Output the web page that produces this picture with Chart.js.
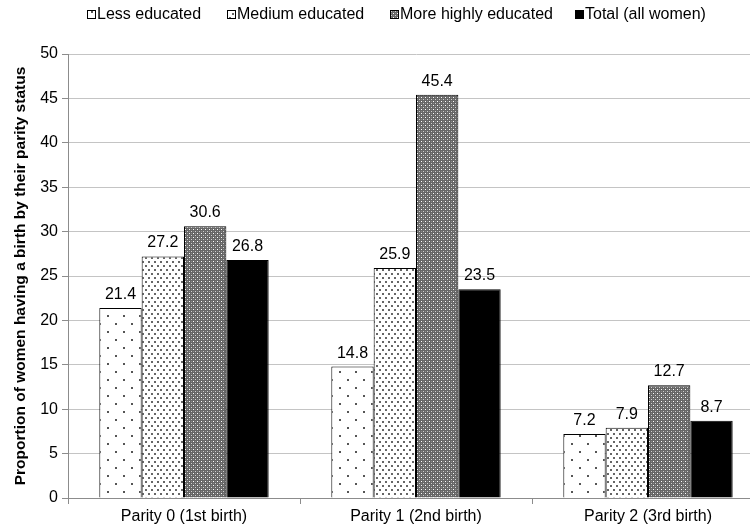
<!DOCTYPE html>
<html>
<head>
<meta charset="utf-8">
<script src="https://cdn.jsdelivr.net/npm/chart.js@4"></script>
<style>
  html, body { margin: 0; padding: 0; background: #fff; overflow: hidden; }
  #wrap { position: absolute; left: 0; top: 0; width: 770px; height: 529px; }
</style>
</head>
<body>
<div id="wrap"><canvas id="c"></canvas></div>
<script>
// Share of women having a birth, by parity and education level
const categories = ['Parity 0 (1st birth)', 'Parity 1 (2nd birth)', 'Parity 2 (3rd birth)'];
const seriesNames = ['Less educated', 'Medium educated', 'More highly educated', 'Total (all women)'];
const lessEducated = [21.4, 14.8, 7.2];
const mediumEducated = [27.2, 25.9, 7.9];
const moreHighlyEducated = [30.6, 45.4, 12.7];
const totalAllWomen = [26.8, 23.5, 8.7];
const yTicks = [0, 5, 10, 15, 20, 25, 30, 35, 40, 45, 50];
const yTitle = 'Proportion of women having a birth by their parity status';

const FONT = '"Liberation Sans", Arial, sans-serif';

// Fill patterns for the bars
function makePattern(w, h, bg, dots) {
  const c = document.createElement('canvas');
  c.width = w; c.height = h;
  const g = c.getContext('2d');
  g.fillStyle = bg; g.fillRect(0, 0, w, h);
  dots.forEach(d => { g.fillStyle = d[4]; g.fillRect(d[0], d[1], d[2], d[3]); });
  return g.createPattern(c, 'repeat');
}
const ctx = document.getElementById('c').getContext('2d');
const sparseDots = makePattern(16, 16, '#ffffff', [[3, 3, 2, 2, '#555'], [11, 11, 2, 2, '#555']]);
const denseDots = makePattern(6, 8, '#ffffff', [[1, 1, 2, 2, '#666'], [4, 5, 2, 2, '#666']]);
const darkCheck = makePattern(4, 4, '#666666', [[1, 1, 1, 1, '#ffffff'], [3, 3, 1, 1, '#d0d0d0'], [3, 1, 1, 1, '#8a8a8a'], [1, 3, 1, 1, '#8a8a8a']]);
const fills = [sparseDots, denseDots, darkCheck, '#000000'];
const values = [lessEducated, mediumEducated, moreHighlyEducated, totalAllWomen];

// Legend drawn across the top
const legendX = [87, 227, 390, 575];
const legendPlugin = {
  id: 'topLegend',
  afterDraw(chart) {
    const g = chart.ctx;
    g.save();
    g.font = '16px ' + FONT;
    g.textBaseline = 'middle';
    g.textAlign = 'left';
    const y = 15;
    chart.data.datasets.forEach((ds, i) => {
      const x = legendX[i];
      g.fillStyle = ds.backgroundColor;
      g.fillRect(x, y - 5, 9, 9);
      g.strokeStyle = '#000';
      g.lineWidth = 1;
      g.strokeRect(x + 0.5, y - 4.5, 8, 8);
      g.fillStyle = '#000';
      g.fillText(ds.label, x + 10, y);
    });
    g.restore();
  }
};

// Value labels above each bar
const valueLabels = {
  id: 'valueLabels',
  afterDatasetsDraw(chart) {
    const g = chart.ctx;
    g.save();
    g.font = '16px ' + FONT;
    g.fillStyle = '#000';
    g.textAlign = 'center';
    g.textBaseline = 'alphabetic';
    chart.data.datasets.forEach((ds, i) => {
      chart.getDatasetMeta(i).data.forEach((el, j) => {
        g.fillText(ds.data[j].toFixed(1), el.x, el.y - 9);
      });
    });
    g.restore();
  }
};

new Chart(ctx, {
  type: 'bar',
  data: {
    labels: categories,
    datasets: seriesNames.map((name, i) => ({
      label: name,
      data: values[i],
      backgroundColor: fills[i],
      borderColor: '#000',
      borderWidth: 1,
      borderSkipped: 'bottom',
      categoryPercentage: 0.73,
      barPercentage: 1.0
    }))
  },
  options: {
    responsive: true,
    maintainAspectRatio: false,
    animation: false,
    devicePixelRatio: 1,
    layout: { padding: { top: 54, left: 4, right: 6, bottom: 0 } },
    plugins: {
      legend: { display: false },
      tooltip: { enabled: false }
    },
    scales: {
      x: {
        grid: { display: true, drawOnChartArea: false, offset: true, tickLength: 6, color: '#8c8c8c' },
        border: { color: '#8c8c8c' },
        ticks: { font: { family: FONT, size: 16 }, color: '#000', padding: 3, maxRotation: 0 },
        afterFit: s => { s.height = 31; }
      },
      y: {
        min: 0, max: 50,
        afterBuildTicks: s => { s.ticks = yTicks.map(v => ({ value: v })); },
        grid: { color: '#c4c4c4', tickLength: 6, tickColor: '#8c8c8c' },
        border: { color: '#8c8c8c' },
        ticks: { font: { family: FONT, size: 16 }, color: '#000', padding: 4 },
        title: { display: true, text: yTitle, font: { family: FONT, size: 15.5, weight: 'bold' }, color: '#000', padding: { top: 7, bottom: 0 } },
        afterFit: s => { s.width = 64; }
      }
    }
  },
  plugins: [legendPlugin, valueLabels]
});
</script>
</body>
</html>
